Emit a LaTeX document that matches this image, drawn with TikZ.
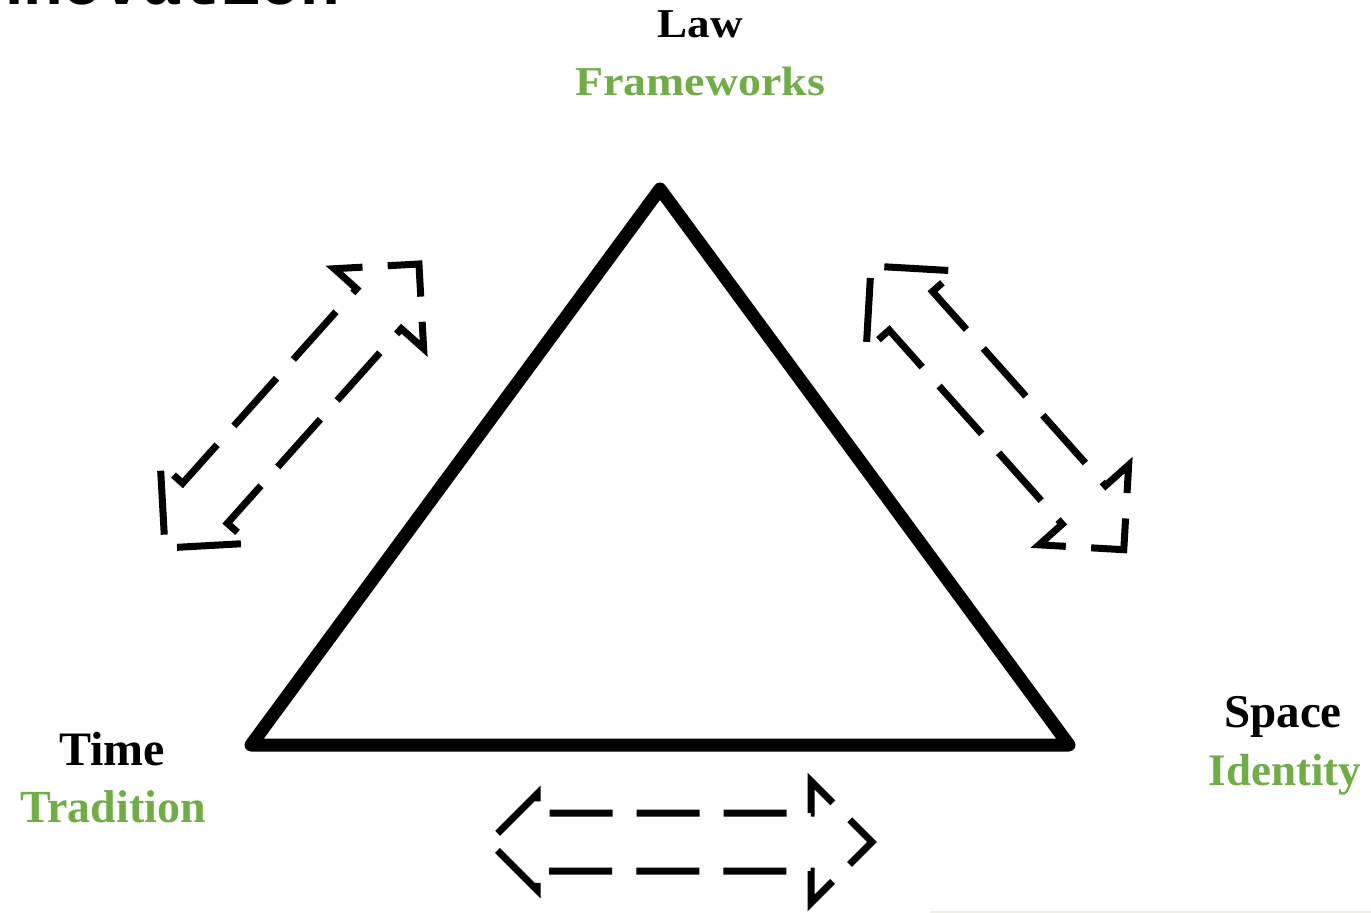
\documentclass[tikz,border=0pt]{standalone}
\usepackage{graphicx}
\usepackage{fontspec}
\setmainfont{Liberation Serif}
\newfontfamily\innofont{Liberation Mono}
\definecolor{lawgreen}{HTML}{70AD47}
\definecolor{faintline}{RGB}{240,240,225}
% #1 length, #2 shaft half width, #3 tail head size, #4 front head size, #5 extra style
\newcommand{\myDblArrow}[5]{%
  \draw[arrowoutline,#5] (0,0) -- (#3,#3) -- (#3,#2) -- ({#1-#4},#2) -- ({#1-#4},#4)
    -- (#1,0) -- ({#1-#4},-#4) -- ({#1-#4},-#2) -- (#3,-#2) -- (#3,-#3) -- cycle;}
\tikzset{
  arrowoutline/.style={line width=7pt, line join=miter, line cap=butt},
  arrowdash/.style n args={3}{dash pattern=on #1pt off #2pt, dash phase=#3pt},
  tri/.style={line width=13pt, line join=round, line cap=round},
  lbl/.style={anchor=base, inner sep=0pt, font=\bfseries},
}
\begin{document}
\begin{tikzpicture}[x=1pt,y=-1pt]
\useasboundingbox (0,0) rectangle (1371,913);
\clip (0,0) rectangle (1371,913);
\fill[white] (0,0) rectangle (1371,913);
% cut-off title
\node[anchor=base west, inner sep=0pt, font=\innofont\bfseries\fontsize{66}{66}\selectfont] (title) at (-56,4.5) {Innovation};
% triangle
\coordinate (apex) at (660,189);
\coordinate (bl) at (251,745);
\coordinate (br) at (1069,745);
\draw[tri] (apex) -- (bl) -- (br) -- cycle;
% labels
\node[lbl, font=\bfseries\fontsize{41}{41}\selectfont] (law) at (700,37) {\scalebox{1.1}[1]{Law}};
\node[lbl, text=lawgreen, font=\bfseries\fontsize{41}{41}\selectfont] (frame) at (700,95) {\scalebox{1.12}[1]{Frameworks}};
\node[lbl, font=\bfseries\fontsize{48}{48}\selectfont] (time) at (112,765) {Time};
\node[lbl, text=lawgreen, font=\bfseries\fontsize{46}{46}\selectfont] (trad) at (113,822) {Tradition};
\node[lbl, font=\bfseries\fontsize{47}{47}\selectfont] (space) at (1283,727) {Space};
\node[lbl, text=lawgreen, font=\bfseries\fontsize{45}{45}\selectfont] (ident) at (1285,785) {Identity};
% dashed double arrows
\begin{scope}[shift={(165,548)}, rotate=48.2]
  \myDblArrow{381}{30}{60}{60}{arrowdash={64}{25.2}{77.2}}
\end{scope}
\begin{scope}[shift={(871,266)}, rotate=-48.3]
  \myDblArrow{380}{29}{60}{60}{arrowdash={64}{25.4}{77.4}}
\end{scope}
\begin{scope}[shift={(489,842)}]
  \myDblArrow{383}{29}{48}{61}{arrowdash={63}{24.1}{75.1}}
\end{scope}
% faint line bottom right
\draw[faintline, line width=2pt] (930,911.5) -- (1371,911.5);
\end{tikzpicture}
\end{document}
